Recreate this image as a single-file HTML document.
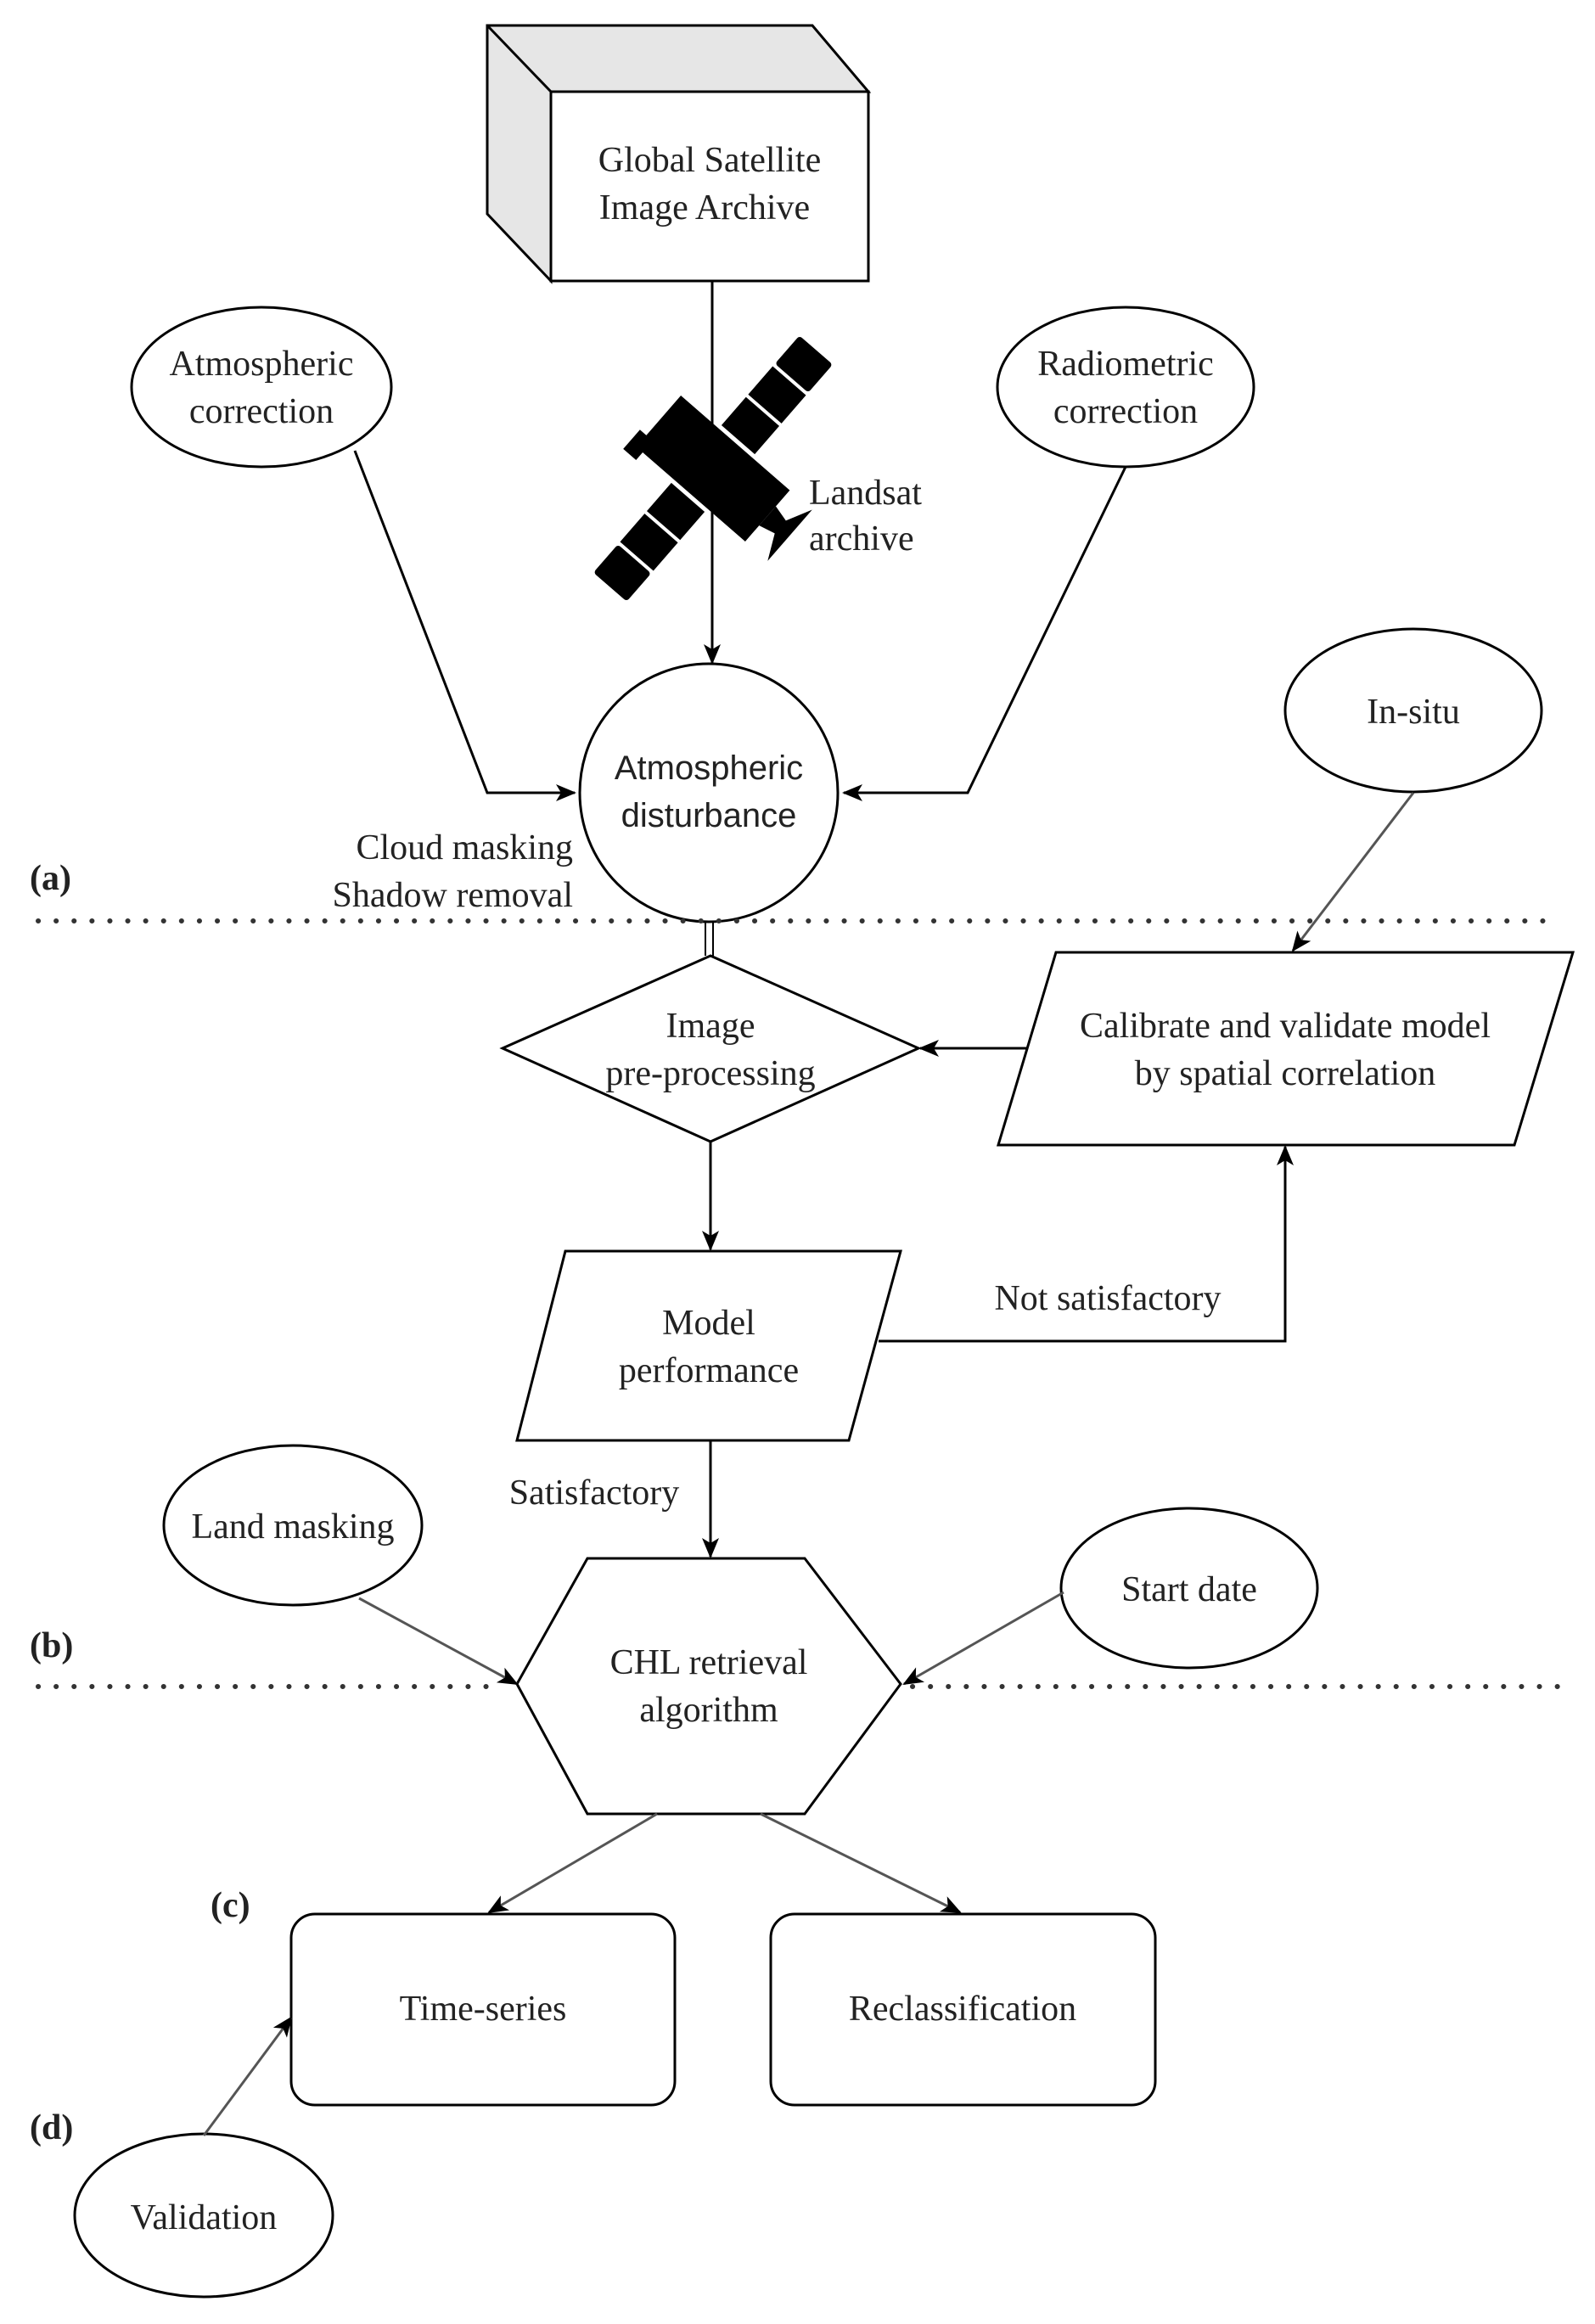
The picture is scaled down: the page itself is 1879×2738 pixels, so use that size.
<!DOCTYPE html>
<html><head><meta charset="utf-8"><style>html,body{margin:0;padding:0;background:#fff}svg{display:block}</style></head>
<body>
<svg width="1879" height="2738" viewBox="0 0 1879 2738" xmlns="http://www.w3.org/2000/svg">
<defs>
<marker id="ab" markerWidth="24" markerHeight="24" refX="22" refY="12" orient="auto" markerUnits="userSpaceOnUse" viewBox="0 0 24 24"><path d="M0,2 L24,12 L0,22 L6,12 Z" fill="#000"/></marker>
</defs>
<g font-family="Liberation Serif, serif" font-size="42" fill="#222" text-anchor="middle">
<polygon points="574,30 957,30 1023,108 649,108 649,331 574,252" fill="#e6e6e6" stroke="#000" stroke-width="3"/>
<line x1="574" y1="30" x2="649" y2="108" stroke="#000" stroke-width="3"/>
<rect x="649" y="108" width="374" height="223" fill="#fff" stroke="#000" stroke-width="3"/>
<text x="836" y="202">Global Satellite</text>
<text x="830" y="258">Image Archive</text>

<g transform="translate(840,552) rotate(-49)" fill="#000">
<rect x="-185" y="-26" width="44" height="52" rx="4"/>
<rect x="-137" y="-26" width="44" height="52"/>
<rect x="-89" y="-26" width="44" height="52"/>
<rect x="45" y="-26" width="44" height="52"/>
<rect x="93" y="-26" width="44" height="52"/>
<rect x="141" y="-26" width="44" height="52" rx="4"/>
<rect x="-40" y="-85" width="80" height="170"/>
<rect x="-52" y="-95" width="30" height="20"/>
<path d="M-15,85 L15,85 L10,105 L40,120 L-40,120 L-10,105 Z"/>
</g>
<line x1="839" y1="331" x2="839" y2="781" stroke="#000" stroke-width="3" marker-end="url(#ab)"/>
<text x="953" y="594" text-anchor="start">Landsat</text>
<text x="953" y="648" text-anchor="start">archive</text>

<ellipse cx="308" cy="456" rx="153" ry="94" fill="#fff" stroke="#000" stroke-width="3"/>
<text x="308" y="442">Atmospheric</text><text x="308" y="498">correction</text>
<ellipse cx="1326" cy="456" rx="151" ry="94" fill="#fff" stroke="#000" stroke-width="3"/>
<text x="1326" y="442">Radiometric</text><text x="1326" y="498">correction</text>

<polyline points="418,531 574,934 677,934" fill="none" stroke="#000" stroke-width="3" marker-end="url(#ab)"/>
<polyline points="1326,550 1140,934 994,934" fill="none" stroke="#000" stroke-width="3" marker-end="url(#ab)"/>

<ellipse cx="835" cy="934" rx="152" ry="152" fill="#fff" stroke="#000" stroke-width="3"/>
<g font-family="Liberation Sans, sans-serif" font-size="40"><text x="835" y="918">Atmospheric</text><text x="835" y="974">disturbance</text></g>
<text x="675" y="1012" text-anchor="end">Cloud masking</text>
<text x="675" y="1068" text-anchor="end">Shadow removal</text>
<text x="35" y="1048" text-anchor="start" font-weight="bold">(a)</text>

<line x1="45" y1="1085" x2="1836" y2="1085" stroke="#333" stroke-width="6" stroke-dasharray="0.1 21" stroke-linecap="round"/>

<ellipse cx="1665" cy="837" rx="151" ry="96" fill="#fff" stroke="#000" stroke-width="3"/>
<text x="1665" y="852">In-situ</text>
<line x1="1665" y1="934" x2="1523" y2="1120" stroke="#555" stroke-width="3" marker-end="url(#ab)"/>

<line x1="831" y1="1086" x2="831" y2="1126" stroke="#000" stroke-width="2"/>
<line x1="840" y1="1086" x2="840" y2="1126" stroke="#000" stroke-width="2"/>

<polygon points="837,1126 1082,1235 837,1345 592,1235" fill="#fff" stroke="#000" stroke-width="3"/>
<text x="837" y="1222">Image</text><text x="837" y="1278">pre-processing</text>

<polygon points="1244,1122 1853,1122 1784,1349 1176,1349" fill="#fff" stroke="#000" stroke-width="3"/>
<text x="1514" y="1222">Calibrate and validate model</text>
<text x="1514" y="1278">by spatial correlation</text>
<line x1="1209" y1="1235" x2="1084" y2="1235" stroke="#000" stroke-width="3" marker-end="url(#ab)"/>
<line x1="837" y1="1345" x2="837" y2="1472" stroke="#000" stroke-width="3" marker-end="url(#ab)"/>

<polygon points="666,1474 1061,1474 1000,1697 609,1697" fill="#fff" stroke="#000" stroke-width="3"/>
<text x="835" y="1572">Model</text><text x="835" y="1628">performance</text>
<polyline points="1035,1580 1514,1580 1514,1351" fill="none" stroke="#000" stroke-width="3" marker-end="url(#ab)"/>
<text x="1305" y="1543">Not satisfactory</text>
<line x1="837" y1="1697" x2="837" y2="1834" stroke="#000" stroke-width="3" marker-end="url(#ab)"/>
<text x="700" y="1772">Satisfactory</text>

<line x1="45" y1="1987" x2="592" y2="1987" stroke="#333" stroke-width="6" stroke-dasharray="0.1 21" stroke-linecap="round"/>
<line x1="1075" y1="1987" x2="1836" y2="1987" stroke="#333" stroke-width="6" stroke-dasharray="0.1 21" stroke-linecap="round"/>

<polygon points="692,1836 948,1836 1061,1984 948,2137 692,2137 609,1984" fill="#fff" stroke="#000" stroke-width="3"/>
<text x="835" y="1972">CHL retrieval</text><text x="835" y="2028">algorithm</text>

<ellipse cx="345" cy="1797" rx="152" ry="94" fill="#fff" stroke="#000" stroke-width="3"/>
<text x="345" y="1812">Land masking</text>
<line x1="423" y1="1883" x2="609" y2="1984" stroke="#555" stroke-width="3" marker-end="url(#ab)"/>
<ellipse cx="1401" cy="1871" rx="151" ry="94" fill="#fff" stroke="#000" stroke-width="3"/>
<text x="1401" y="1886">Start date</text>
<line x1="1253" y1="1876" x2="1065" y2="1984" stroke="#555" stroke-width="3" marker-end="url(#ab)"/>
<text x="35" y="1952" text-anchor="start" font-weight="bold">(b)</text>

<line x1="774" y1="2137" x2="576" y2="2253" stroke="#555" stroke-width="3" marker-end="url(#ab)"/>
<line x1="896" y1="2137" x2="1131" y2="2253" stroke="#555" stroke-width="3" marker-end="url(#ab)"/>
<text x="248" y="2258" text-anchor="start" font-weight="bold">(c)</text>

<rect x="343" y="2255" width="452" height="225" rx="28" fill="#fff" stroke="#000" stroke-width="3"/>
<text x="569" y="2380">Time-series</text>
<rect x="908" y="2255" width="453" height="225" rx="28" fill="#fff" stroke="#000" stroke-width="3"/>
<text x="1134" y="2380">Reclassification</text>

<text x="35" y="2520" text-anchor="start" font-weight="bold">(d)</text>
<ellipse cx="240" cy="2610" rx="152" ry="96" fill="#fff" stroke="#000" stroke-width="3"/>
<text x="240" y="2626">Validation</text>
<line x1="240" y1="2516" x2="343" y2="2377" stroke="#555" stroke-width="3" marker-end="url(#ab)"/>
</g>
</svg>
</body></html>
